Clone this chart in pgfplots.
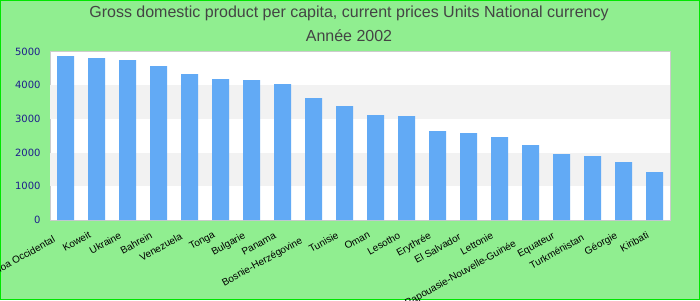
\documentclass[border=0pt]{standalone}
\usepackage{pgfplots}
\pgfplotsset{compat=1.18}
\usepackage{fontspec}
\setmainfont{Liberation Sans}
\newfontfamily\dejavu{DejaVu Sans}
\definecolor{bgreen}{RGB}{144,238,144}
\definecolor{edgegreen}{RGB}{0,230,0}
\definecolor{barblue}{RGB}{98,170,245}
\definecolor{band}{RGB}{242,242,242}
\definecolor{ticknavy}{RGB}{30,30,140}
\definecolor{titlegray}{RGB}{68,68,68}
\definecolor{framegray}{RGB}{204,204,204}
\newlength\labw
\newcommand\xl[1]{\settowidth\labw{#1}\raisebox{0.033\labw}{\vphantom{#1}}#1\hspace*{0.123\labw}}
\begin{document}
\begin{tikzpicture}[x=1bp,y=1bp]
\path[use as bounding box] (0,0) rectangle (700,300);
\clip (0,0) rectangle (700,300);
\fill[bgreen] (0,0) rectangle (700,300);
\draw[edgegreen,line width=1.2bp] (0.5,0.5) rectangle (699.5,299.5);
\node[font=\fontsize{16bp}{18bp}\selectfont,text=titlegray] at (349,287) {Gross domestic product per capita, current prices Units National currency};
\node[font=\fontsize{16bp}{18bp}\selectfont,text=titlegray] at (349,264) {Année 2002};
\begin{axis}[
  at={(50bp,80bp)}, anchor=south west,
  scale only axis, width=620bp, height=168.3bp,
  xmin=-0.5, xmax=19.5, ymin=0, ymax=5000,
  axis background/.style={fill=white},
  axis line style={framegray, line width=0.8bp},
  major tick length=0pt,
  xtick={0,...,19},
  xticklabels={\xl{Samoa Occidental},\xl{Koweit},\xl{Ukraine},\xl{Bahrein},\xl{Venezuela},\xl{Tonga},\xl{Bulgarie},\xl{Panama},\xl{Bosnie-Herzégovine},\xl{Tunisie},\xl{Oman},\xl{Lesotho},\xl{Erythrée},\xl{El Salvador},\xl{Lettonie},\xl{Papouasie-Nouvelle-Guinée},\xl{Equateur},\xl{Turkménistan},\xl{Géorgie},\xl{Kiribati}},
  xticklabel style={xshift=-5.7bp, yshift=-8bp, rotate=29, anchor=north east, font=\fontsize{10bp}{12bp}\selectfont, inner sep=0bp},
  ytick={0,1000,...,5000},
  yticklabel style={font=\dejavu\fontsize{10bp}{12bp}\selectfont, text=ticknavy, xshift=-6bp},
  /pgf/number format/assume math mode=true,
  /pgf/number format/1000 sep={},
  ybar, bar width=17bp,
]
\fill[band] (axis cs:-0.5,1000) rectangle (axis cs:19.5,2000);
\fill[band] (axis cs:-0.5,3000) rectangle (axis cs:19.5,4000);
\addplot[fill=barblue, draw=none] coordinates {
(0,4866) (1,4807) (2,4748) (3,4570) (4,4332) (5,4184) (6,4154) (7,4036) (8,3620) (9,3383)
(10,3116) (11,3086) (12,2641) (13,2582) (14,2463) (15,2226) (16,1958) (17,1899) (18,1721) (19,1424)
};
\end{axis}
\end{tikzpicture}
\end{document}
